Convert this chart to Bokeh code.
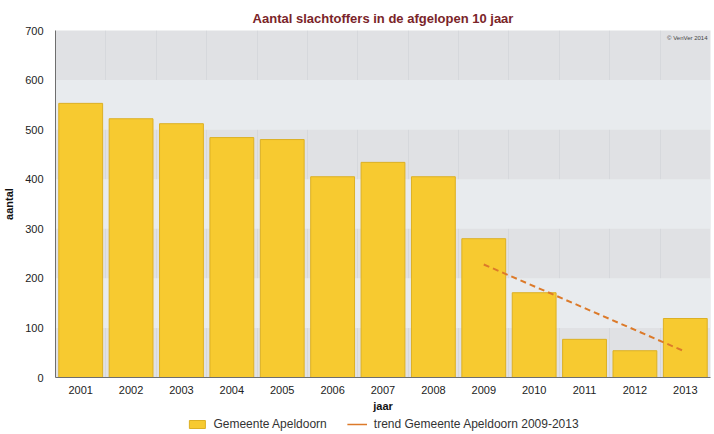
from bokeh.plotting import figure
from bokeh.layouts import column
from bokeh.models import (Range1d, FixedTicker, Legend, LegendItem, Label,
                          ColumnDataSource)
from bokeh.embed import file_html
from bokeh.resources import INLINE

# Verkeersslachtoffers per jaar, gemeente Apeldoorn
jaren = ["2001", "2002", "2003", "2004", "2005", "2006", "2007",
         "2008", "2009", "2010", "2011", "2012", "2013"]
aantal = [553, 522, 512, 484, 480, 405, 434, 405, 280, 171, 77, 54, 119]

# Trendlijn 2009-2013 (begin- en eindwaarde)
trend_jaren = ["2009", "2013"]
trend_waarden = [228, 52]

y_ticks = [0, 100, 200, 300, 400, 500, 600, 700]

FONT = "Liberation Sans"
BAR_FILL, BAR_LINE = "#f7ca30", "#dcb024"
TREND_COLOR = "#dc7a2a"

# positie van elk jaar op de x-as (midden van elk vak)
pos = {j: i + 0.5 for i, j in enumerate(jaren)}

p = figure(width=714, height=414, output_backend="svg", toolbar_location=None,
           x_range=Range1d(0, len(jaren)), y_range=Range1d(0, 700),
           min_border_left=53, min_border_right=4, min_border_top=30,
           min_border_bottom=37)

p.background_fill_color = "#e0e1e4"
p.border_fill_color = "white"
p.outline_line_color = None

src = ColumnDataSource(dict(x=[pos[j] for j in jaren], top=aantal))
trend_src = ColumnDataSource(dict(x=[pos[j] for j in trend_jaren],
                                  y=trend_waarden))

p.vbar(x="x", top="top", width=0.87, source=src,
       fill_color=BAR_FILL, line_color=BAR_LINE, line_width=1)
p.line(x="x", y="y", source=trend_src,
       line_color=TREND_COLOR, line_width=2, line_dash="6 4")

# Titel
p.title.text = "Aantal slachtoffers in de afgelopen 10 jaar"
p.title.align = "center"
p.title.text_color = "#7a2429"
p.title.text_font = FONT
p.title.text_font_size = "13px"
p.title.text_font_style = "bold"

# Assen
p.xaxis.ticker = FixedTicker(ticks=[pos[j] for j in jaren])
p.xaxis.major_label_overrides = {pos[j]: j for j in jaren}
p.yaxis.ticker = FixedTicker(ticks=y_ticks)

for ax in (p.xaxis[0], p.yaxis[0]):
    ax.axis_line_color = "#6e6e6e"
    ax.major_tick_line_color = None
    ax.minor_tick_line_color = None
    ax.major_label_text_font = FONT
    ax.major_label_text_font_size = "11px"
    ax.major_label_text_color = "#222222"
    ax.axis_label_text_font = FONT
    ax.axis_label_text_font_size = "11px"
    ax.axis_label_text_font_style = "bold"
    ax.axis_label_text_color = "#111111"

p.xaxis.axis_label = "jaar"
p.yaxis.axis_label = "aantal"
p.xaxis.major_label_standoff = 2
p.xaxis.axis_label_standoff = 3
p.yaxis.major_label_standoff = 6
p.yaxis.axis_label_standoff = 7

# Rasters: horizontale banden en verticale scheidingslijnen tussen de jaren
p.ygrid.ticker = FixedTicker(ticks=y_ticks)
p.ygrid.grid_line_color = None
p.ygrid.band_fill_color = "#e8ebee"
p.ygrid.band_fill_alpha = 1.0
p.xgrid.ticker = FixedTicker(ticks=list(range(1, len(jaren))))
p.xgrid.grid_line_color = "#d6d8dc"
p.xgrid.grid_line_width = 1

# Bronvermelding
p.add_layout(Label(x=len(jaren), y=700, x_offset=-3, y_offset=-10,
                   text="\u00a9 VenVer 2014", text_font=FONT,
                   text_font_size="6px", text_color="#444444",
                   text_align="right"))

# Legenda in een aparte strook onder de grafiek; de glyphs vallen buiten
# het zichtbare bereik zodat alleen de legenda getekend wordt
leg = figure(width=714, height=20, output_backend="svg", toolbar_location=None,
             x_range=Range1d(0, len(jaren)), y_range=Range1d(1000, 1010),
             min_border_left=53, min_border_right=4, min_border_top=0,
             min_border_bottom=0)
leg.axis.visible = False
leg.grid.visible = False
leg.outline_line_color = None
leg.background_fill_color = "white"
leg_bars = leg.vbar(x="x", top="top", width=0.87, source=src,
                    fill_color=BAR_FILL, line_color=BAR_LINE, line_width=1)
leg_trend = leg.line(x="x", y="y", source=trend_src,
                     line_color=TREND_COLOR, line_width=1.5)

legend = Legend(items=[LegendItem(label="Gemeente Apeldoorn",
                                  renderers=[leg_bars]),
                       LegendItem(label="trend Gemeente Apeldoorn 2009-2013",
                                  renderers=[leg_trend])],
                orientation="horizontal", location="center",
                label_text_font=FONT, label_text_font_size="12px",
                label_text_color="#333333", border_line_color=None,
                background_fill_alpha=0, glyph_width=20, glyph_height=10,
                spacing=20, padding=2, margin=0, label_standoff=7,
                label_height=10)
leg.add_layout(legend)

open("out.html", "w").write(file_html(column(p, leg, spacing=0), INLINE))
